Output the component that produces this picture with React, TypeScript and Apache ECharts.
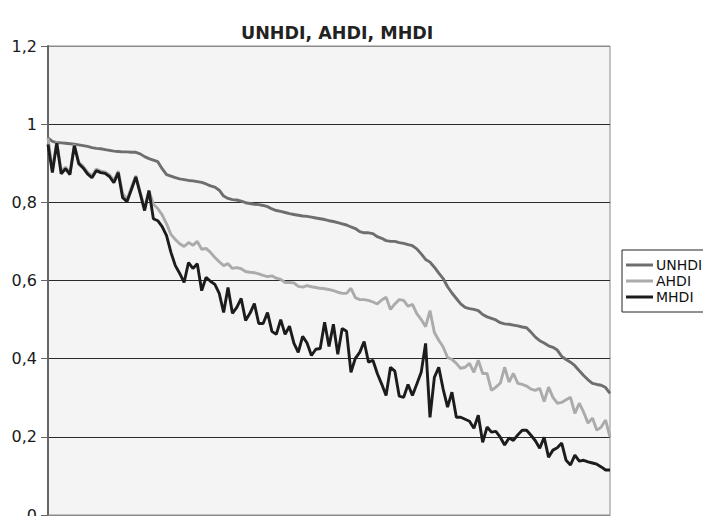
import React, { useEffect, useRef } from "react";
import * as echarts from "echarts";

const seriesNames = ["UNHDI", "AHDI", "MHDI"];

// 129 countries, ranked by UNHDI
const countries: string[] = Array.from({ length: 129 }, (_, i) => String(i + 1));

const unhdi = [
  0.965, 0.956, 0.953, 0.952, 0.951, 0.95, 0.949, 0.947, 0.945, 0.943,
  0.94, 0.938, 0.937, 0.935, 0.933, 0.931, 0.93, 0.929, 0.929, 0.928,
  0.928, 0.924, 0.917, 0.912, 0.908, 0.904, 0.886, 0.871, 0.867, 0.863,
  0.86, 0.858, 0.856, 0.855, 0.853, 0.851, 0.847, 0.842, 0.839, 0.831,
  0.816, 0.81, 0.807, 0.806, 0.803, 0.799, 0.797, 0.795, 0.794, 0.792,
  0.789, 0.783, 0.779, 0.777, 0.774, 0.771, 0.769, 0.767, 0.765, 0.764,
  0.762, 0.76, 0.758, 0.756, 0.753, 0.751, 0.748, 0.745, 0.742, 0.737,
  0.733, 0.725, 0.722, 0.722, 0.72, 0.712, 0.708, 0.702, 0.7, 0.7,
  0.697, 0.695, 0.692, 0.689, 0.681, 0.668, 0.654, 0.647, 0.634, 0.619,
  0.605, 0.584, 0.568, 0.554, 0.54, 0.531, 0.528, 0.526, 0.523, 0.513,
  0.507, 0.503, 0.499, 0.492, 0.489, 0.488, 0.486, 0.484, 0.481, 0.479,
  0.468, 0.455, 0.446, 0.44, 0.433, 0.429, 0.422, 0.406, 0.398, 0.391,
  0.382, 0.369, 0.357, 0.346, 0.337, 0.334, 0.332, 0.326, 0.311,
];

const ahdi = [
  0.965, 0.882, 0.955, 0.88, 0.89, 0.876, 0.948, 0.903, 0.892, 0.877,
  0.868, 0.885, 0.88, 0.878, 0.87, 0.856, 0.88, 0.822, 0.808, 0.838,
  0.868, 0.826, 0.785, 0.83, 0.795, 0.784, 0.768, 0.745, 0.718, 0.705,
  0.694, 0.687, 0.697, 0.69, 0.7, 0.68, 0.682, 0.672, 0.659, 0.648,
  0.638, 0.643, 0.631, 0.633, 0.63, 0.623, 0.621, 0.62, 0.617, 0.613,
  0.61, 0.612, 0.606, 0.603, 0.595, 0.595, 0.594, 0.585, 0.583, 0.587,
  0.584, 0.582, 0.58, 0.579, 0.577, 0.574, 0.57, 0.567, 0.567, 0.58,
  0.556, 0.551, 0.551, 0.549, 0.545, 0.54, 0.55, 0.557, 0.526, 0.54,
  0.551, 0.549, 0.534, 0.539, 0.515, 0.5, 0.482, 0.523, 0.467, 0.447,
  0.43, 0.403, 0.398, 0.388, 0.375, 0.378, 0.388, 0.365, 0.396, 0.362,
  0.362, 0.319, 0.327, 0.337, 0.378, 0.34, 0.362, 0.337, 0.334, 0.33,
  0.322, 0.319, 0.324, 0.29, 0.327, 0.301, 0.286, 0.288, 0.295, 0.301,
  0.26, 0.286, 0.263, 0.235, 0.248, 0.217, 0.225, 0.243, 0.199,
];

const mhdi = [
  0.948, 0.876, 0.952, 0.873, 0.886, 0.871, 0.945, 0.899, 0.888, 0.873,
  0.863, 0.881, 0.876, 0.874, 0.866, 0.85, 0.876, 0.812, 0.802, 0.833,
  0.865, 0.822, 0.779, 0.83, 0.758, 0.753, 0.738, 0.715, 0.672, 0.638,
  0.618, 0.595, 0.646, 0.631, 0.643, 0.574, 0.608, 0.598, 0.59, 0.567,
  0.518, 0.582, 0.516, 0.531, 0.554, 0.498, 0.516, 0.541, 0.49, 0.49,
  0.518, 0.47, 0.462, 0.5, 0.462, 0.483, 0.44, 0.416, 0.457, 0.44,
  0.408, 0.424, 0.426, 0.493, 0.431, 0.488, 0.411, 0.477, 0.47, 0.365,
  0.401, 0.416, 0.444, 0.391, 0.396, 0.362, 0.335, 0.306, 0.378, 0.368,
  0.304, 0.301, 0.334, 0.306, 0.335, 0.365, 0.439, 0.25, 0.352, 0.378,
  0.322, 0.276, 0.314, 0.25, 0.25, 0.245, 0.24, 0.222, 0.255, 0.186,
  0.225, 0.212, 0.214, 0.199, 0.179, 0.197, 0.191, 0.205, 0.217, 0.217,
  0.204, 0.19, 0.171, 0.199, 0.148, 0.166, 0.172, 0.184, 0.14, 0.128,
  0.153, 0.138, 0.14, 0.136, 0.133, 0.13, 0.123, 0.115, 0.115,
];

const seriesColors = ["#6e6e6e", "#ababab", "#1c1c1c"];
const yMin = 0;
const yMax = 1.2;
const yStep = 0.2;

export default function App() {
  const ref = useRef<HTMLDivElement>(null);

  useEffect(() => {
    if (!ref.current) return;
    const chart = echarts.init(ref.current, null, { renderer: "svg" });
    const values = [unhdi, ahdi, mhdi];
    chart.setOption({
      animation: false,
      backgroundColor: "#ffffff",
      title: {
        text: "UNHDI, AHDI, MHDI",
        left: 236,
        top: 19,
        textStyle: {
          fontFamily: "DejaVu Sans",
          fontWeight: "bold",
          fontSize: 17.5,
          color: "#222",
        },
      },
      legend: {
        orient: "vertical",
        left: 622,
        top: 250,
        padding: [8, 16, 8, 4],
        itemWidth: 27,
        itemHeight: 3,
        itemGap: 2,
        borderColor: "#222",
        borderWidth: 1,
        backgroundColor: "#fff",
        data: seriesNames.map((n) => ({ name: n, icon: "rect" })),
        textStyle: { fontFamily: "DejaVu Sans", fontSize: 14, color: "#111", padding: [0, 0, 0, -2] },
      },
      grid: {
        left: 48,
        right: 93,
        top: 46,
        bottom: 1,
        outerBoundsMode: "none",
        containLabel: false,
        show: true,
        backgroundColor: "#f4f4f4",
        borderColor: "#8a8a8a",
        borderWidth: 1,
      },
      xAxis: {
        type: "category",
        data: countries,
        boundaryGap: false,
        axisLine: { show: true, lineStyle: { color: "#8a8a8a", width: 1 } },
        axisTick: { show: false },
        axisLabel: { show: false },
        splitLine: { show: false },
      },
      yAxis: {
        type: "value",
        min: yMin,
        max: yMax,
        interval: yStep,
        axisLine: { show: true, lineStyle: { color: "#666", width: 2 } },
        axisTick: { show: true, length: 7, lineStyle: { color: "#666" } },
        axisLabel: {
          margin: 11,
          fontFamily: "DejaVu Sans",
          fontSize: 16,
          color: "#1a1a1a",
          formatter: (v: number) => String(Math.round(v * 10) / 10).replace(".", ","),
        },
        splitLine: {
          show: true,
          lineStyle: {
            color: ["#8a8a8a", "#2a2a2a", "#2a2a2a", "#2a2a2a", "#2a2a2a", "#2a2a2a", "#8a8a8a"],
            width: 1,
          },
        },
      },
      series: seriesNames.map((name, k) => ({
        name,
        type: "line",
        data: values[k],
        showSymbol: false,
        symbol: "none",
        lineStyle: { color: seriesColors[k], width: 2.9 },
        itemStyle: { color: seriesColors[k] },
        z: 2 + k,
      })),
    });
    return () => chart.dispose();
  }, []);

  return (
    <div
      ref={ref}
      style={{ position: "fixed", left: 0, top: 0, width: 703, height: 516 }}
    />
  );
}
